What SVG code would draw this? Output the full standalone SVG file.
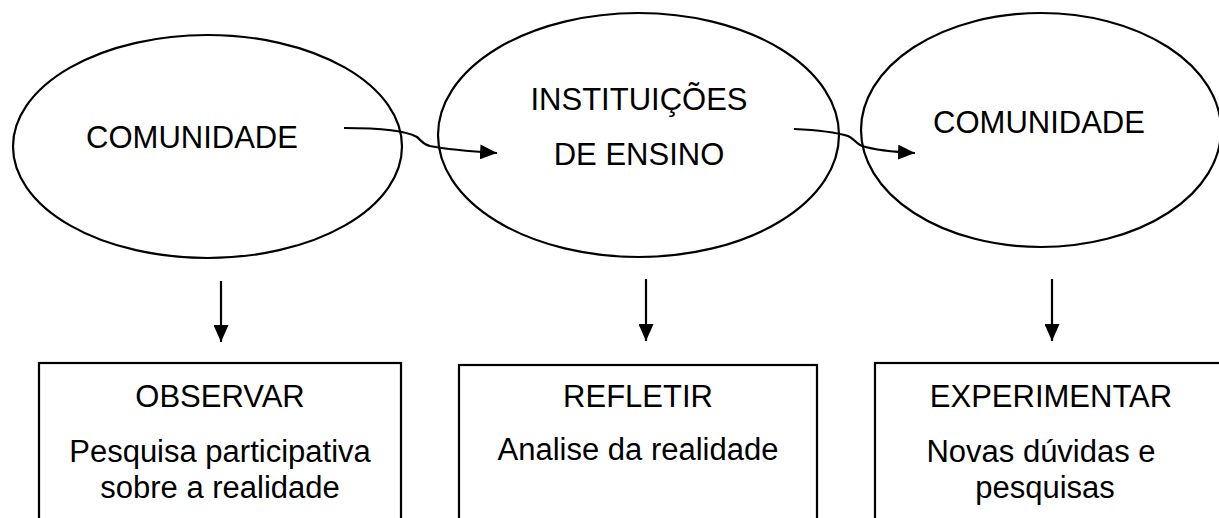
<svg xmlns="http://www.w3.org/2000/svg" width="1219" height="518" viewBox="0 0 1219 518">
<style>
.shape{fill:#fff;stroke:#000;stroke-width:2.2}
.t{font-family:"Liberation Sans",Arial,sans-serif;font-size:31px;fill:#000;text-anchor:middle}
.c{fill:none;stroke:#000;stroke-width:2.2}
</style>
<defs>
<marker id="ah" markerUnits="userSpaceOnUse" markerWidth="17" markerHeight="15" refX="17" refY="7.5" orient="auto">
<path d="M0,0 L17,7.5 L0,15 Z" fill="#000"/>
</marker>
</defs>
<rect width="1219" height="518" fill="#fff"/>
<g id="n1">
<ellipse class="shape" cx="207.5" cy="146.5" rx="194.5" ry="111.5"/>
<text class="t" x="192" y="148">COMUNIDADE</text>
</g>
<g id="n2">
<ellipse class="shape" cx="638.5" cy="135" rx="200.5" ry="122"/>
<text class="t" x="639" y="110">INSTITUIÇÕES</text>
<text class="t" x="639" y="165">DE ENSINO</text>
</g>
<g id="n3">
<ellipse class="shape" cx="1041" cy="130" rx="180" ry="117"/>
<text class="t" x="1039" y="133">COMUNIDADE</text>
</g>
<g id="b1">
<rect class="shape" x="39" y="363" width="362" height="170"/>
<text class="t" x="220" y="407">OBSERVAR</text>
<text class="t" x="220" y="462">Pesquisa participativa</text>
<text class="t" x="220" y="498">sobre a realidade</text>
</g>
<g id="b2">
<rect class="shape" x="459" y="365" width="358" height="170"/>
<text class="t" x="638" y="407">REFLETIR</text>
<text class="t" x="638" y="460">Analise da realidade</text>
</g>
<g id="b3">
<rect class="shape" x="875" y="363" width="360" height="170"/>
<text class="t" x="1051" y="407">EXPERIMENTAR</text>
<text class="t" x="1041" y="462">Novas dúvidas e</text>
<text class="t" x="1045" y="498">pesquisas</text>
</g>
<g id="connectors">
<path class="c" marker-end="url(#ah)" d="M344,128 C375,128 405,130 417,137 C421,140 422,144 430,146 C445,149 465,151 497,153"/>
<path class="c" marker-end="url(#ah)" d="M794,129 C815,130 835,132 848,136 C855,139 855,143 862,146 C875,150 895,152 915,153"/>
<line class="c" x1="221" y1="281" x2="221" y2="342" marker-end="url(#ah)"/>
<line class="c" x1="646" y1="279" x2="646" y2="341" marker-end="url(#ah)"/>
<line class="c" x1="1052" y1="279" x2="1052" y2="341" marker-end="url(#ah)"/>
</g>
</svg>
